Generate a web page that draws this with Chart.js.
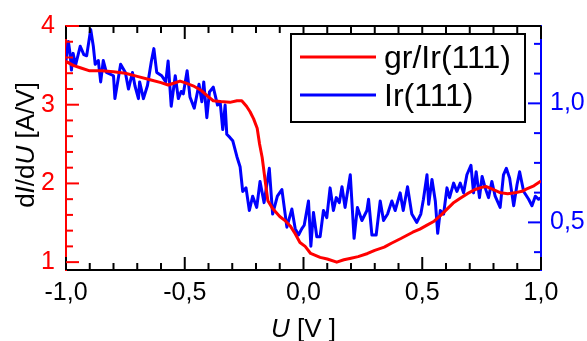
<!DOCTYPE html>
<html>
<head>
<meta charset="utf-8">
<script src="https://cdn.jsdelivr.net/npm/chart.js@4.4.1/dist/chart.umd.min.js"></script>
<style>
  html, body { margin: 0; padding: 0; background: #fff; }
  #wrap { width: 587px; height: 341px; }
</style>
</head>
<body>
<div id="wrap"><canvas id="c"></canvas></div>
<script>
// gr/Ir(111), left axis dI/dU [A/V]
const redU = [-1.0, -0.97, -0.94, -0.9, -0.85, -0.8, -0.75, -0.7, -0.65, -0.6, -0.57, -0.55, -0.52, -0.5,
  -0.465, -0.43, -0.4, -0.38, -0.35, -0.31, -0.28, -0.26, -0.24, -0.225, -0.21, -0.195, -0.185, -0.174,
  -0.165, -0.16, -0.15, -0.13, -0.1, -0.075, -0.056, -0.035, -0.015, 0.007, 0.03, 0.07, 0.1, 0.14, 0.17,
  0.2, 0.23, 0.27, 0.3, 0.34, 0.37, 0.41, 0.46, 0.49, 0.52, 0.55, 0.58, 0.6, 0.63, 0.66, 0.69, 0.72, 0.75,
  0.77, 0.8, 0.83, 0.86, 0.89, 0.92, 0.94, 0.97, 1.0];
const redVal = [3.55, 3.5, 3.47, 3.43, 3.43, 3.42, 3.4, 3.36, 3.32, 3.28, 3.25, 3.27, 3.3, 3.28,
  3.24, 3.18, 3.1, 3.05, 3.04, 3.03, 3.05, 3.05, 2.98, 2.91, 2.82, 2.7, 2.5, 2.33,
  2.12, 2.0, 1.78, 1.68, 1.58, 1.52, 1.46, 1.36, 1.25, 1.2, 1.11, 1.06, 1.04, 1.0, 1.03,
  1.05, 1.07, 1.11, 1.15, 1.19, 1.24, 1.3, 1.38, 1.42, 1.47, 1.52, 1.6, 1.66, 1.75, 1.81, 1.87, 1.92, 1.95,
  1.96, 1.92, 1.88, 1.87, 1.88, 1.9, 1.93, 1.97, 2.03];

// Ir(111), right axis
const blueU = [-1.0, -0.99, -0.983, -0.977, -0.97, -0.96, -0.95, -0.94, -0.925, -0.913, -0.896, -0.885,
  -0.877, -0.864, -0.854, -0.843, -0.83, -0.8, -0.794, -0.77, -0.75, -0.737, -0.72, -0.71, -0.695, -0.69,
  -0.674, -0.657, -0.64, -0.63, -0.618, -0.597, -0.58, -0.57, -0.557, -0.54, -0.527, -0.515, -0.506, -0.49,
  -0.478, -0.46, -0.44, -0.428, -0.42, -0.407, -0.396, -0.38, -0.362, -0.351, -0.34, -0.33, -0.323, -0.31,
  -0.298, -0.28, -0.267, -0.256, -0.242, -0.228, -0.214, -0.197, -0.183, -0.166, -0.144, -0.13, -0.11,
  -0.091, -0.07, -0.049, -0.035, -0.021, -0.007, 0.003, 0.021, 0.031, 0.042, 0.056, 0.07, 0.084, 0.098,
  0.112, 0.126, 0.138, 0.151, 0.162, 0.175, 0.197, 0.213, 0.227, 0.246, 0.267, 0.274, 0.288, 0.306, 0.323,
  0.337, 0.354, 0.372, 0.386, 0.407, 0.42, 0.438, 0.456, 0.477, 0.494, 0.505, 0.52, 0.527, 0.541, 0.555,
  0.565, 0.576, 0.59, 0.604, 0.615, 0.632, 0.646, 0.66, 0.674, 0.688, 0.705, 0.716, 0.727, 0.741, 0.752,
  0.765, 0.779, 0.793, 0.807, 0.828, 0.842, 0.854, 0.868, 0.885, 0.899, 0.91, 0.927, 0.948, 0.962, 0.976,
  0.99, 1.0];
const blueVal = [1.18, 1.26, 1.21, 1.14, 1.21, 1.16, 1.2, 1.24, 1.205, 1.2, 1.31, 1.24,
  1.164, 1.18, 1.09, 1.18, 1.13, 1.116, 1.02, 1.164, 1.13, 1.06, 1.13, 1.075, 1.02, 1.09,
  1.02, 1.075, 1.18, 1.23, 1.13, 1.116, 1.09, 1.178, 0.988, 1.116, 1.02, 1.05, 1.04, 1.137,
  1.027, 0.98, 1.08, 1.007, 1.09, 0.94, 1.048, 1.068, 0.993, 1.007, 0.89, 0.993, 0.87, 0.857,
  0.843, 0.775, 0.734, 0.63, 0.645, 0.55, 0.61, 0.563, 0.672, 0.583, 0.727, 0.535, 0.61,
  0.638, 0.48, 0.556, 0.474, 0.447, 0.474, 0.488, 0.59, 0.4, 0.542, 0.44, 0.44, 0.55, 0.52,
  0.645, 0.55, 0.604, 0.583, 0.65, 0.563, 0.7, 0.433, 0.563, 0.508, 0.55, 0.597, 0.447, 0.447, 0.59,
  0.508, 0.535, 0.59, 0.55, 0.624, 0.55, 0.65, 0.535, 0.5, 0.535, 0.597, 0.7, 0.576, 0.68, 0.59,
  0.454, 0.55, 0.535, 0.645, 0.604, 0.665, 0.63, 0.665, 0.624, 0.7, 0.74, 0.624, 0.713, 0.604, 0.693,
  0.645, 0.604, 0.672, 0.61, 0.563, 0.7, 0.727, 0.686, 0.57, 0.658, 0.713, 0.63, 0.597, 0.57, 0.61,
  0.597, 0.604];

const seriesNames = ['gr/Ir(111)', 'Ir(111)'];
const xTicks = [-1, -0.5, 0, 0.5, 1];
const leftTicks = [1, 2, 3, 4];
const rightTicks = [0.5, 1.0];

const RED = '#ff0000';
const BLUE = '#0000ff';
const FONT = "'Liberation Sans', Arial, sans-serif";

const fmt = v => v.toFixed(1).replace('.', ',');

function steps(from, to, step) {
  const out = [];
  for (let v = from; v <= to + 1e-9; v += step) out.push(Math.round(v * 1000) / 1000);
  return out;
}

// inward tick marks, top frame line, axis titles and boxed legend
const decor = {
  id: 'decor',
  afterDraw(chart) {
    const { ctx, chartArea: a, scales } = chart;
    const maj = 13, min = 7;
    ctx.save();
    ctx.lineWidth = 2;

    // top frame
    ctx.strokeStyle = '#000';
    ctx.beginPath();
    ctx.moveTo(a.left, a.top);
    ctx.lineTo(a.right, a.top);
    ctx.stroke();

    // x ticks bottom + top
    steps(-1, 1, 0.1).forEach(v => {
      const x = scales.x.getPixelForValue(v);
      const len = xTicks.some(t => Math.abs(t - v) < 1e-6) ? maj : min;
      ctx.beginPath();
      ctx.moveTo(x, a.bottom); ctx.lineTo(x, a.bottom - len);
      ctx.moveTo(x, a.top); ctx.lineTo(x, a.top + len);
      ctx.stroke();
    });

    // left ticks
    ctx.strokeStyle = RED;
    steps(1, 4, 0.2).forEach(v => {
      const y = scales.y.getPixelForValue(v);
      const len = leftTicks.some(t => Math.abs(t - v) < 1e-6) ? maj : min;
      ctx.beginPath();
      ctx.moveTo(a.left, y); ctx.lineTo(a.left + len, y);
      ctx.stroke();
    });

    // right ticks
    ctx.strokeStyle = BLUE;
    steps(0.375, 1.25, 0.125).forEach(v => {
      const y = scales.y1.getPixelForValue(v);
      const len = rightTicks.some(t => Math.abs(t - v) < 1e-6) ? maj : min;
      ctx.beginPath();
      ctx.moveTo(a.right, y); ctx.lineTo(a.right - len, y);
      ctx.stroke();
    });

    // titles with italic symbols
    ctx.fillStyle = '#000';
    ctx.textBaseline = 'alphabetic';
    function rich(parts, cx, cy) {
      let w = 0;
      parts.forEach(p => { ctx.font = (p[1] ? 'italic ' : '') + '26px ' + FONT; w += ctx.measureText(p[0]).width; });
      let x = cx - w / 2;
      parts.forEach(p => {
        ctx.font = (p[1] ? 'italic ' : '') + '26px ' + FONT;
        ctx.fillText(p[0], x, cy);
        x += ctx.measureText(p[0]).width;
      });
    }
    rich([['U', true], [' [V ]', false]], (a.left + a.right) / 2, 337);
    ctx.save();
    ctx.translate(34, 145);
    ctx.rotate(-Math.PI / 2);
    rich([['d', false], ['I', true], ['/d', false], ['U', true], [' [A/V]', false]], 0, 0);
    ctx.restore();

    // legend box
    const bx = 291, by = 34, bw = 234, bh = 88;
    ctx.fillStyle = '#fff';
    ctx.fillRect(bx, by, bw, bh);
    ctx.strokeStyle = '#000';
    ctx.lineWidth = 2;
    ctx.strokeRect(bx, by, bw, bh);
    ctx.font = '32px ' + FONT;
    ctx.textBaseline = 'middle';
    chart.data.datasets.forEach((ds, i) => {
      const ly = by + 23 + i * 38;
      ctx.strokeStyle = ds.borderColor;
      ctx.lineWidth = 3;
      ctx.beginPath();
      ctx.moveTo(300, ly); ctx.lineTo(376, ly);
      ctx.stroke();
      ctx.fillStyle = '#000';
      ctx.fillText(ds.label, 384, ly + 2);
    });
    ctx.restore();
  }
};

new Chart(document.getElementById('c'), {
  type: 'line',
  data: {
    datasets: [
      {
        label: seriesNames[0],
        data: redU.map((u, i) => ({ x: u, y: redVal[i] })),
        borderColor: RED,
        borderWidth: 3,
        borderJoinStyle: 'round',
        pointRadius: 0,
        yAxisID: 'y'
      },
      {
        label: seriesNames[1],
        data: blueU.map((u, i) => ({ x: u, y: blueVal[i] })),
        borderColor: BLUE,
        borderWidth: 3,
        borderJoinStyle: 'round',
        pointRadius: 0,
        yAxisID: 'y1'
      }
    ]
  },
  options: {
    responsive: true,
    maintainAspectRatio: false,
    animation: false,
    layout: { padding: { top: 21 } },
    plugins: {
      legend: { display: false },
      tooltip: { enabled: false }
    },
    scales: {
      x: {
        type: 'linear',
        min: -1,
        max: 1,
        afterBuildTicks: s => { s.ticks = xTicks.map(v => ({ value: v })); },
        afterFit: s => { s.height = 71; },
        grid: { display: false, drawTicks: false },
        border: { display: true, color: '#000', width: 2 },
        ticks: { color: '#000', padding: 8, maxRotation: 0, autoSkip: false,
          font: { family: FONT, size: 25 }, callback: v => fmt(v) }
      },
      y: {
        position: 'left',
        min: 0.9,
        max: 4,
        afterBuildTicks: s => { s.ticks = leftTicks.map(v => ({ value: v })); },
        afterFit: s => { s.width = 66; },
        grid: { display: false, drawTicks: false },
        border: { display: true, color: RED, width: 2 },
        ticks: { color: RED, padding: 11, font: { family: FONT, size: 25 }, callback: v => String(v) }
      },
      y1: {
        position: 'right',
        min: 0.3,
        max: 1.325,
        afterBuildTicks: s => { s.ticks = rightTicks.map(v => ({ value: v })); },
        afterFit: s => { s.width = 46; },
        grid: { display: false, drawTicks: false },
        border: { display: true, color: BLUE, width: 2 },
        ticks: { color: BLUE, padding: 9, font: { family: FONT, size: 25 }, callback: v => fmt(v) }
      }
    }
  },
  plugins: [decor]
});
</script>
</body>
</html>
